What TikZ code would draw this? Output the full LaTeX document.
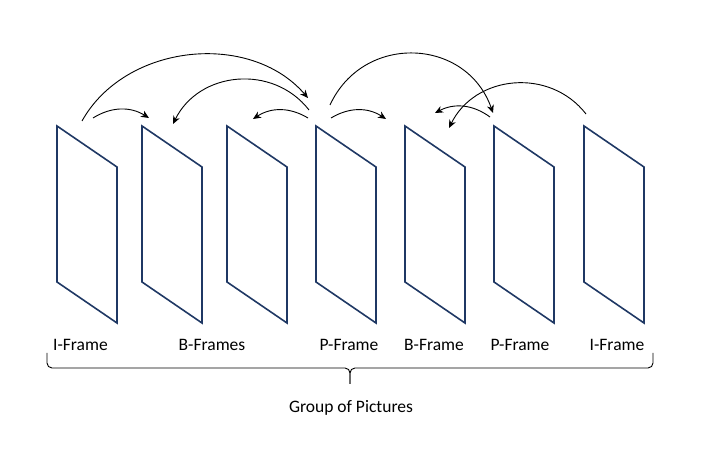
\documentclass[tikz,border=0pt]{standalone}
\usepackage{fontspec}
\setmainfont{Carlito}
\usepackage{tikz}
\usetikzlibrary{arrows.meta}
\definecolor{framenavy}{RGB}{31,56,100}

\begin{document}
\begin{tikzpicture}[x=1pt,y=1pt,
    frame/.style={draw=framenavy, line width=1.6pt, line join=miter},
    ref/.style={-{Stealth[length=8pt,width=7pt,inset=2.5pt]}, line width=0.9pt},
    gopbrace/.style={line width=0.9pt, rounded corners=5pt},
    lbl/.style={anchor=base, inner sep=0pt, font=\fontsize{17.5}{21}\selectfont}]
  \useasboundingbox (0,0) rectangle (703,452);

  % frames
  \foreach \x [count=\i] in {57,142,227,316,405,494,584}{
    \draw[frame] (\x,326) -- (\x,170) -- ++(60,-41) -- ++(0,156) -- cycle;
    \coordinate (f\i) at (\x,326);
  }

  % arrow ends
  \coordinate (i1far)  at (82,331);
  \coordinate (i1near) at (93,334);
  \coordinate (b1in)   at (149,334);
  \coordinate (b1from) at (173,328);
  \coordinate (b2in)   at (253,333);
  \coordinate (p1in)   at (308,354);
  \coordinate (p1far)  at (309,342);
  \coordinate (p1near) at (308,334);
  \coordinate (p1out)  at (330,347);
  \coordinate (p1b)    at (331,334);
  \coordinate (b3in)   at (386,333);
  \coordinate (b3p)    at (435,339);
  \coordinate (b3i)    at (449,324);
  \coordinate (p2in)   at (493,339);
  \coordinate (p2out)  at (490,335);
  \coordinate (i2out)  at (586,338);

  \draw[ref] (i1far) to[bend left=55] (p1in);
  \draw[ref] (i1near) to[bend left=32] (b1in);
  \draw[ref] (p1far) to[bend right=58, looseness=1.1] (b1from);
  \draw[ref] (p1near) to[bend right=32] (b2in);
  \draw[ref] (p1out) to[bend left=68, looseness=1.25] (p2in);
  \draw[ref] (p1b) to[bend left=32] (b3in);
  \draw[ref] (p2out) to[bend right=32] (b3p);
  \draw[ref] (i2out) to[bend right=58, looseness=1.1] (b3i);

  % labels
  \node[lbl] (lblI1) at (80.5,101) {I-Frame};
  \node[lbl] (lblB1) at (212,101) {B-Frames};
  \node[lbl] (lblP1) at (349,101) {P-Frame};
  \node[lbl] (lblB2) at (434,101) {B-Frame};
  \node[lbl] (lblP2) at (520,101) {P-Frame};
  \node[lbl] (lblI2) at (617,101) {I-Frame};

  % group of pictures
  \coordinate (gopL) at (47,99);
  \coordinate (gopR) at (653,99);
  \coordinate (gopTip) at (350,68);
  \draw[gopbrace] (gopL) -- (47,84) -- (350,84) -- (gopTip);
  \draw[gopbrace] (gopR) -- (653,84) -- (350,84) -- (gopTip);
  \node[lbl] (gop) at (351,40) {Group of Pictures};
\end{tikzpicture}
\end{document}
